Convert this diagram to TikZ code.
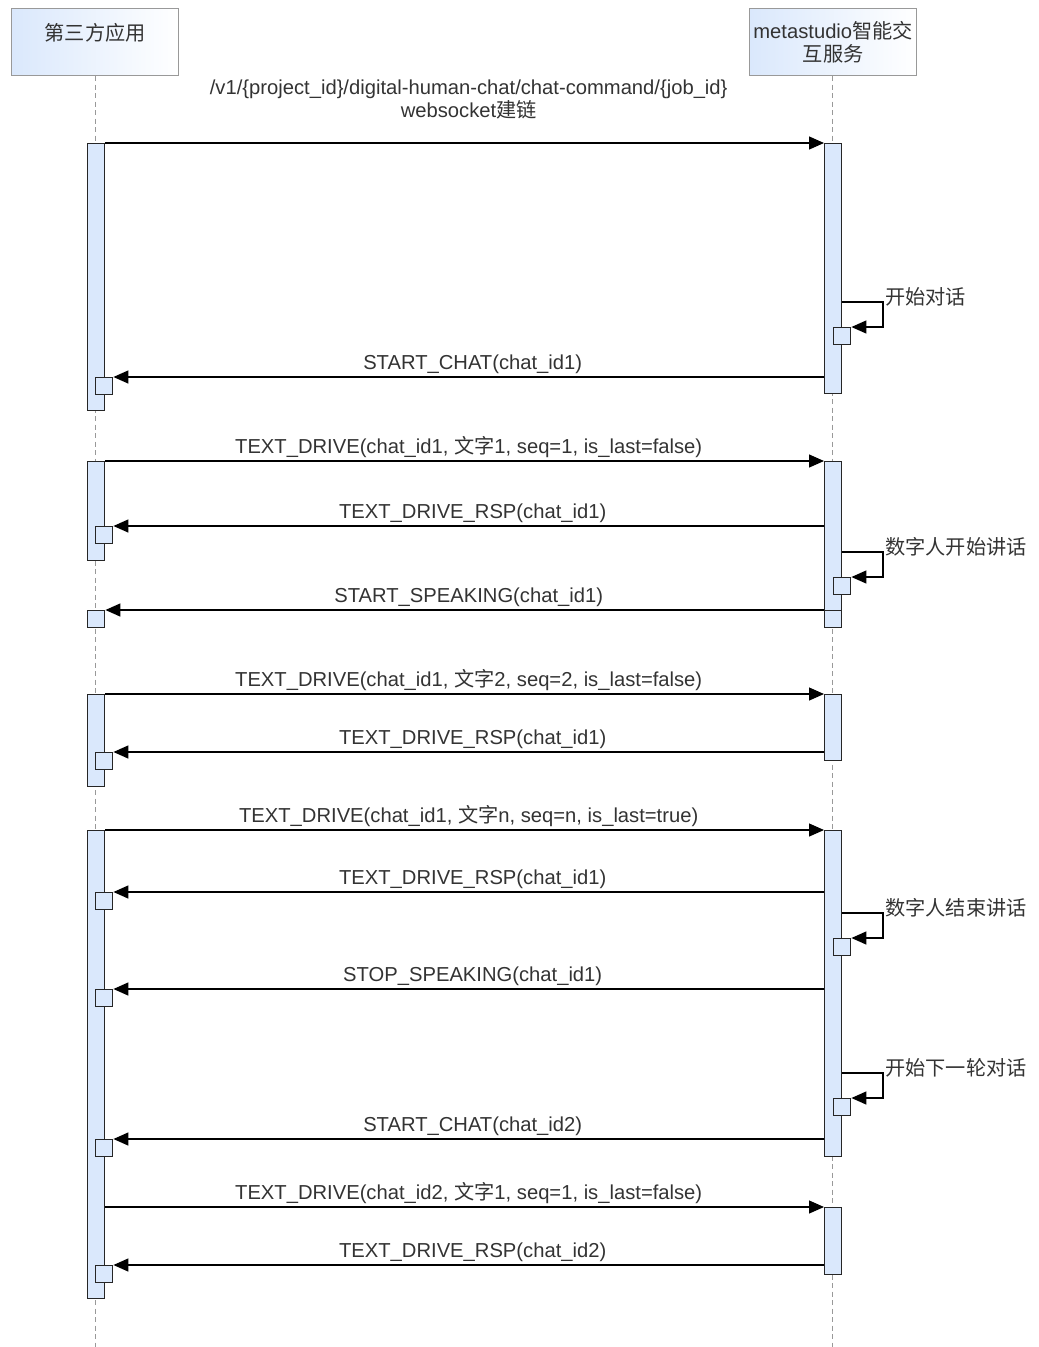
\documentclass[tikz,border=0pt]{standalone}
\usepackage{fontspec}
\setmainfont{Liberation Sans}
\newfontfamily\cjk{Noto Sans CJK SC}
\usetikzlibrary{arrows.meta}
\definecolor{barfill}{HTML}{DAE8FC}
\definecolor{txt}{HTML}{333333}
\definecolor{hdrline}{HTML}{999999}
\tikzset{
  hdr/.style={draw=hdrline, line width=1.2pt, left color=barfill, right color=white,
    minimum width=167pt, minimum height=67pt, anchor=north west, inner sep=2pt,
    text=txt, font=\fontsize{20.2}{23.5}\selectfont, align=center},
  life/.style={draw=hdrline, line width=1pt, dash pattern=on 5pt off 3.5pt},
  bar/.style={draw=black!85, fill=barfill, line width=1.4pt, minimum width=17pt,
    anchor=north west, inner sep=0pt},
  sbox/.style={draw=black!85, fill=barfill, line width=1.4pt, minimum width=17pt,
    minimum height=17pt, anchor=north west, inner sep=0pt},
  msg/.style={draw=black, line width=1.3pt, -{Triangle[length=15pt,width=13pt]}},
  lbl/.style={text=txt, font=\fontsize{20.2}{23.5}\selectfont, inner sep=0pt, align=center, xshift=4pt},
  slbl/.style={text=txt, font=\fontsize{20.2}{23.5}\selectfont, inner sep=0pt, anchor=west},
}
\begin{document}
\begin{tikzpicture}[x=1pt,y=-1pt]
\useasboundingbox (0,0) rectangle (1039,1347);
% participants
\node[hdr] (pa) at (11,8) {{\cjk 第三方应用}\\[-4pt]\mbox{}};
\node[hdr] (pb) at (749,8) {metastudio{\cjk 智能交}\\{\cjk 互服务}};
\coordinate (pae) at (95.5,1347);
\coordinate (pbe) at (832.5,1347);
\draw[life] (pa.south -| pae) -- (pae);
\draw[life] (pb.south -| pbe) -- (pbe);

% activation bars
\node[bar, minimum height=267pt] (la1) at (87,143) {};
\node[bar, minimum height=250pt] (ra1) at (824,143) {};
\node[bar, minimum height=99pt] (la2) at (87,461) {};
\node[bar, minimum height=149pt] (ra2) at (824,461) {};
\node[sbox] (ra2b) at (824,610) {};
\node[sbox] (ls1) at (87,610) {};
\node[bar, minimum height=92pt] (la3) at (87,694) {};
\node[bar, minimum height=66pt] (ra3) at (824,694) {};
\node[bar, minimum height=468pt] (la4) at (87,830) {};
\node[bar, minimum height=326pt] (ra4) at (824,830) {};
\node[bar, minimum height=67pt] (ra5) at (824,1207) {};

% small boxes (returns / self calls)
\node[sbox] (rs1) at (833,327) {};
\node[sbox] (lb1) at (95,377) {};
\node[sbox] (lb2) at (95,526) {};
\node[sbox] (rs2) at (833,577) {};
\node[sbox] (lb3) at (95,752) {};
\node[sbox] (lb4) at (95,892) {};
\node[sbox] (rs3) at (833,938) {};
\node[sbox] (lb5) at (95,989) {};
\node[sbox] (rs4) at (833,1098) {};
\node[sbox] (lb6) at (95,1139) {};
\node[sbox] (lb7) at (95,1265) {};

% message 1
\draw[msg] (la1.north east) -- (ra1.north west)
  node[lbl, midway, above=23pt] {/v1/\{project\_id\}/digital-human-chat/chat-command/\{job\_id\}\\websocket{\cjk 建链}};

% self call 1
\coordinate (c1) at (883,302);
\draw[msg] (ra1.east |- c1) -- (c1) -- (c1 |- rs1.north) -- (rs1.north east);
\node[slbl] at ([xshift=2pt,yshift=5pt]c1) {\cjk 开始对话};

\draw[msg] (ra1.west |- lb1.north) -- (lb1.north east)
  node[lbl, midway, above=3pt] {START\_CHAT(chat\_id1)};

\draw[msg] (la2.north east) -- (ra2.north west)
  node[lbl, midway, above=3pt] {TEXT\_DRIVE(chat\_id1, {\cjk 文字}1, seq=1, is\_last=false)};
\draw[msg] (ra2.west |- lb2.north) -- (lb2.north east)
  node[lbl, midway, above=3pt] {TEXT\_DRIVE\_RSP(chat\_id1)};

\coordinate (c2) at (883,552);
\draw[msg] (ra2.east |- c2) -- (c2) -- (c2 |- rs2.north) -- (rs2.north east);
\node[slbl] at ([xshift=2pt,yshift=5pt]c2) {\cjk 数字人开始讲话};

\draw[msg] (ra2b.north west) -- (ls1.north east)
  node[lbl, midway, above=3pt] {START\_SPEAKING(chat\_id1)};

\draw[msg] (la3.north east) -- (ra3.north west)
  node[lbl, midway, above=3pt] {TEXT\_DRIVE(chat\_id1, {\cjk 文字}2, seq=2, is\_last=false)};
\draw[msg] (ra3.west |- lb3.north) -- (lb3.north east)
  node[lbl, midway, above=3pt] {TEXT\_DRIVE\_RSP(chat\_id1)};

\draw[msg] (la4.north east) -- (ra4.north west)
  node[lbl, midway, above=3pt] {TEXT\_DRIVE(chat\_id1, {\cjk 文字}n, seq=n, is\_last=true)};
\draw[msg] (ra4.west |- lb4.north) -- (lb4.north east)
  node[lbl, midway, above=3pt] {TEXT\_DRIVE\_RSP(chat\_id1)};

\coordinate (c3) at (883,913);
\draw[msg] (ra4.east |- c3) -- (c3) -- (c3 |- rs3.north) -- (rs3.north east);
\node[slbl] at ([xshift=2pt,yshift=5pt]c3) {\cjk 数字人结束讲话};

\draw[msg] (ra4.west |- lb5.north) -- (lb5.north east)
  node[lbl, midway, above=3pt] {STOP\_SPEAKING(chat\_id1)};

\coordinate (c4) at (883,1073);
\draw[msg] (ra4.east |- c4) -- (c4) -- (c4 |- rs4.north) -- (rs4.north east);
\node[slbl] at ([xshift=2pt,yshift=5pt]c4) {\cjk 开始下一轮对话};

\draw[msg] (ra4.west |- lb6.north) -- (lb6.north east)
  node[lbl, midway, above=3pt] {START\_CHAT(chat\_id2)};

\draw[msg] (la4.east |- ra5.north) -- (ra5.north west)
  node[lbl, midway, above=3pt] {TEXT\_DRIVE(chat\_id2, {\cjk 文字}1, seq=1, is\_last=false)};
\draw[msg] (ra5.west |- lb7.north) -- (lb7.north east)
  node[lbl, midway, above=3pt] {TEXT\_DRIVE\_RSP(chat\_id2)};
\end{tikzpicture}
\end{document}
